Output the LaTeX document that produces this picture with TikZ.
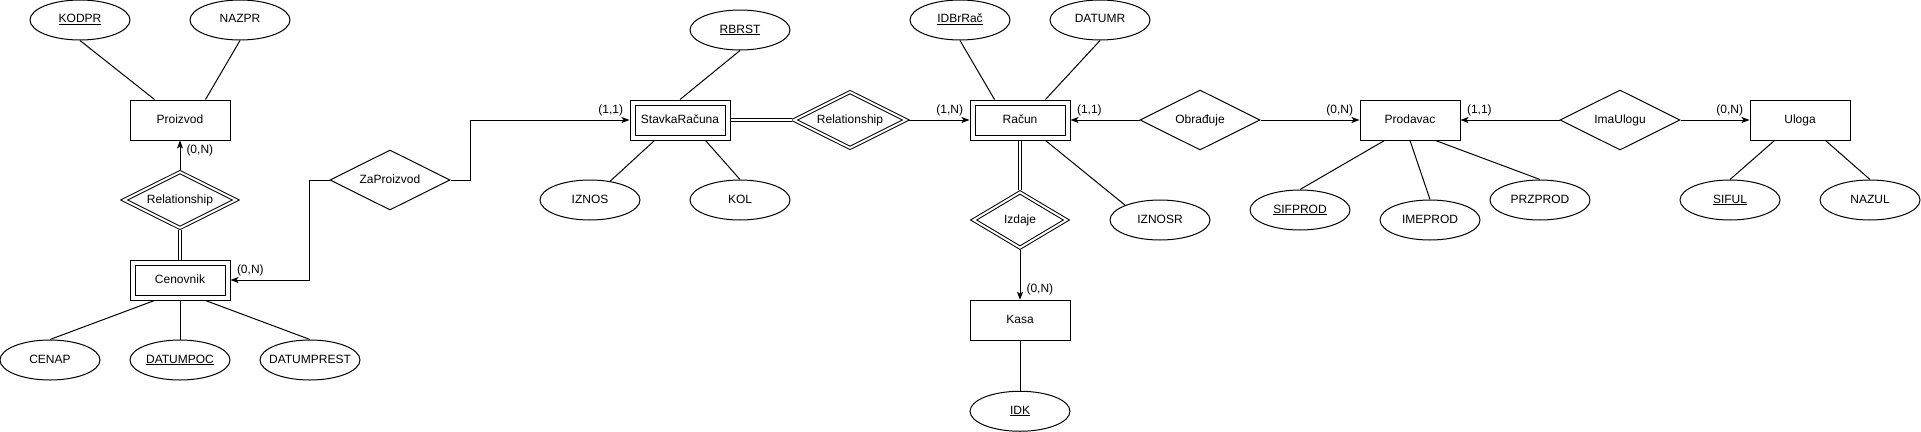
\documentclass[tikz,border=0pt]{standalone}
\usepackage{fontspec}
\setmainfont{Liberation Sans}
\usetikzlibrary{arrows.meta,positioning,shapes.geometric}

\begin{document}
\begin{tikzpicture}[x=1pt,y=-1pt,line width=1pt,node distance=50pt,
    every node/.style={font=\fontsize{12pt}{14pt}\selectfont,text height=8.5pt,text depth=2.5pt},
    ent/.style={draw,rectangle,minimum width=100pt,minimum height=40pt,inner sep=0pt},
    wk/.style={ent,double,double distance=4pt,minimum width=95pt,minimum height=35pt,outer sep=3pt},
    att/.style={draw,ellipse,minimum width=100pt,minimum height=40pt,inner xsep=-15pt,inner ysep=0pt},
    rel/.style={draw,diamond,aspect=2,minimum width=120pt,minimum height=60pt,inner sep=0pt},
    wrel/.style={rel,double,double distance=2pt,minimum width=113pt,minimum height=57pt,outer sep=1.5pt},
    card/.style={inner xsep=6pt,inner ysep=4pt},
    a/.style={-{Stealth[length=8pt,width=6pt,inset=2pt]}},
    dl/.style={double,double distance=2pt}]
    \useasboundingbox (0,0) rectangle (1921,431);

    \node[ent] (pro) at (180,120) {Proizvod};
    \node[att] (kodpr) at (80,20) {\underline{KODPR}};
    \node[att] (nazpr) at (240,20) {NAZPR};
    \node[wrel] (rel1) at (180,200) {Relationship};
    \node[wk] (cen) at (180,280) {Cenovnik};
    \node[att] (cenap) at (50,360) {CENAP};
    \node[att] (datp) at (180,360) {\underline{DATUMPOC}};
    \node[att] (datpr) at (310,360) {DATUMPREST};
    \node[rel] (zap) at (390,180) {ZaProizvod};

    \node[wk] (stav) at (680,120) {StavkaRačuna};
    \node[att] (rbrst) at (740,30) {\underline{RBRST}};
    \node[att] (iznos) at (590,200) {IZNOS};
    \node[att] (kol) at (740,200) {KOL};
    \node[wrel] (rel2) at (850,120) {Relationship};

    \node[wk] (rac) at (1020,120) {Račun};
    \node[att] (idb) at (960,20) {\underline{IDBrRač}};
    \node[att] (datr) at (1100,20) {DATUMR};
    \node[att] (iznosr) at (1160,220) {IZNOSR};
    \node[wrel,minimum width=94pt,minimum height=56.5pt] (izd) at (1020,220) {Izdaje};
    \node[ent,below=of izd] (kasa) {Kasa};
    \node[att,below=of kasa] (idk) {\underline{IDK}};

    \node[rel] (obr) at (1200,120) {Obrađuje};
    \node[ent] (prod) at (1410,120) {Prodavac};
    \node[att] (sifprod) at (1300,210) {\underline{SIFPROD}};
    \node[att] (imeprod) at (1430,220) {IMEPROD};
    \node[att] (przprod) at (1540,200) {PRZPROD};
    \node[rel] (ima) at (1620,120) {ImaUlogu};
    \node[ent] (ulo) at (1800,120) {Uloga};
    \node[att] (siful) at (1730,200) {\underline{SIFUL}};
    \node[att] (nazul) at (1870,200) {NAZUL};

    \draw (kodpr.south) -- ([xshift=25pt]pro.north west);
    \draw (nazpr.south) -- ([xshift=-25pt]pro.north east);
    \draw[a] (rel1) -- (pro) node[card,pos=1,below right]{(0,N)};
    \draw[dl] (rel1) -- (cen);
    \draw ([xshift=25pt]cen.south west) -- (cenap.north);
    \draw (cen) -- (datp);
    \draw ([xshift=-25pt]cen.south east) -- (datpr.north);
    \draw[a] (zap.west) -- ++(-20,0) |- (cen.east) node[card,pos=1,above right]{(0,N)};
    \draw[a] (zap.east) -- ++(20,0) |- (stav.west) node[card,pos=1,above left]{(1,1)};

    \draw (stav.north) -- (rbrst.south);
    \draw ([xshift=25pt]stav.south west) -- (iznos.43);
    \draw ([xshift=-25pt]stav.south east) -- (kol.north);
    \draw[dl] (stav) -- (rel2);
    \draw[a] (rel2) -- (rac) node[card,pos=1,above left]{(1,N)};

    \draw (idb.south) -- ([xshift=25pt]rac.north west);
    \draw (datr.south) -- ([xshift=-25pt]rac.north east);
    \draw ([xshift=-25pt]rac.south east) -- (iznosr.157);
    \draw[dl] (rac) -- (izd);
    \draw[a] (izd) -- (kasa) node[card,pos=1,above right]{(0,N)};
    \draw (kasa) -- (idk);

    \draw[a] (obr) -- (rac) node[card,pos=1,above right]{(1,1)};
    \draw[a] (obr) -- (prod) node[card,pos=1,above left]{(0,N)};
    \draw ([xshift=25pt]prod.south west) -- (sifprod.north);
    \draw (prod.south) -- (imeprod.north);
    \draw ([xshift=-25pt]prod.south east) -- (przprod.north);
    \draw[a] (ima) -- (prod) node[card,pos=1,above right]{(1,1)};
    \draw[a] (ima) -- (ulo) node[card,pos=1,above left]{(0,N)};
    \draw ([xshift=25pt]ulo.south west) -- (siful.north);
    \draw ([xshift=-25pt]ulo.south east) -- (nazul.north);
  \end{tikzpicture}
\end{document}
